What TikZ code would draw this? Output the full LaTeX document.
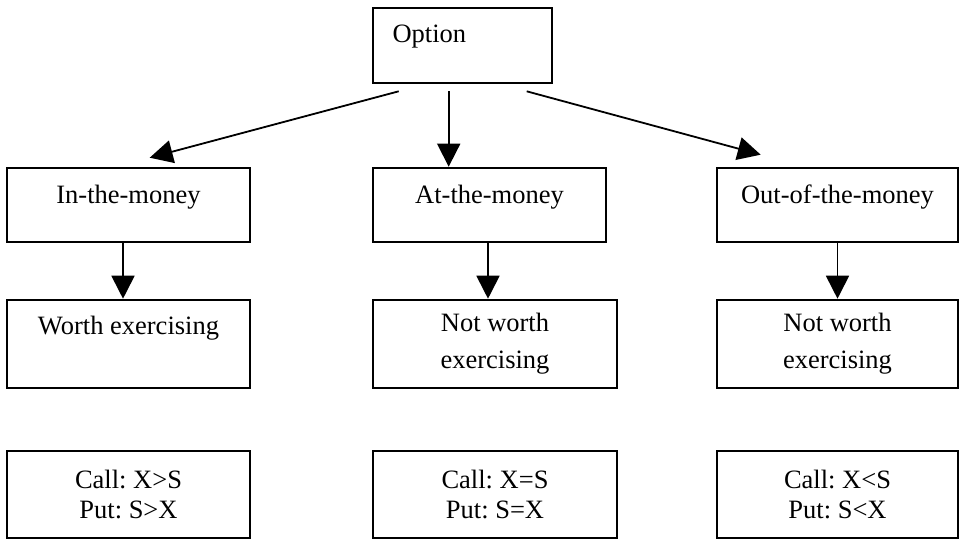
\documentclass[tikz,border=0pt]{standalone}
\usepackage{fontspec}
\setmainfont{Liberation Serif}
\frenchspacing
\usetikzlibrary{arrows.meta}

\tikzstyle{box}=[draw,line width=2.6pt,inner sep=0pt,align=center,font=\fontsize{26.5}{37}\selectfont]
\tikzstyle{head}=[box,minimum width=179pt,minimum height=75pt,text width=140pt,align=left,text height=20pt,text depth=27pt]
\tikzstyle{kind}=[box,minimum height=74pt,text height=20pt,text depth=24pt]
\tikzstyle{verdict}=[box,minimum height=88pt]
\tikzstyle{rulebox}=[box,minimum height=87pt,font=\fontsize{26.5}{30}\selectfont]
\tikzstyle{edge}=[draw,line width=1.8pt,-{Triangle[length=23pt,width=23pt]}]

\begin{document}
\begin{tikzpicture}[x=1pt,y=-1pt]
    \useasboundingbox (0,0) rectangle (960,539);
    % the option itself
    \node[head] (opt) at (462.5,45.5) {Option};
    % where the option stands
    \foreach \pos/\bw/\name/\txt in {{(128.5,205)/243/itm/In-the-money}, {(489.5,205)/233/atm/At-the-money}, {(837.5,205)/241/otm/Out-of-the-money}}
        \node[kind,minimum width=\bw pt] (\name) at \pos {\txt};
    % worth it or not
    \foreach \pos/\bw/\name/\txt in {{(128.5,344)/243/wrt/{Worth exercising\\\phantom{x}}}, {(495,344)/244/nw1/{Not worth\\exercising}}, {(837.5,344)/241/nw2/{Not worth\\exercising}}}
        \node[verdict,minimum width=\bw pt] (\name) at \pos {\txt};
    % call and put conditions
    \foreach \pos/\bw/\name/\txt in {{(128.5,494.5)/243/cp1/{Call: X>S\\Put: S>X}}, {(495,494.5)/244/cp2/{Call: X=S\\Put: S=X}}, {(837.5,494.5)/241/cp3/{Call: X<S\\Put: S<X}}}
        \node[rulebox,minimum width=\bw pt] (\name) at \pos {\txt};
    % arrows from the option down
    \path[edge] ([shift={(27,7)}]opt.south west) -- ([shift={(144,-9)}]itm.north west);
    \path[edge] ([shift={(77,7)}]opt.south west) -- ([xshift=77pt]atm.north west);
    \path[edge] ([shift={(155,7)}]opt.south west) -- ([shift={(45,-12)}]otm.north west);
    \foreach \from/\to/\dx in {itm/wrt/-5.5, atm/nw1/-1.5, otm/nw2/0}
        \path[edge] ([xshift=\dx pt]\from.south) -- ([xshift=\dx pt]\from.south |- \to.north);
\end{tikzpicture}
\end{document}
